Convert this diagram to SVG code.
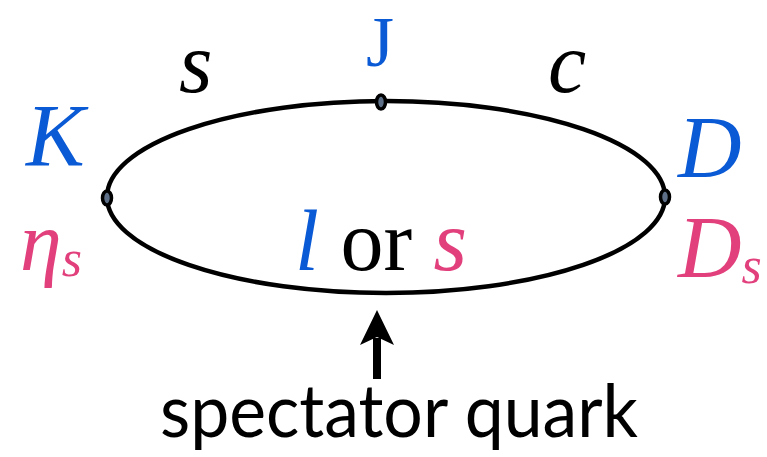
<svg xmlns="http://www.w3.org/2000/svg" width="767" height="457" viewBox="0 0 767 457">
<style>
.serif{font-family:'Liberation Serif','Times New Roman',serif}
.sans{font-family:Lato,'Open Sans',sans-serif}
.it{font-style:italic}
.blue{fill:#0a5ad6}
.pink{fill:#e2407c}
.blk{fill:#000}
.node{fill:#5d6f86;stroke:#000;stroke-width:3.5}
</style>
<g id="connectors">
<ellipse cx="386" cy="197" rx="279" ry="96" fill="none" stroke="#000" stroke-width="4.5"/>
<line x1="377" y1="379" x2="377" y2="338" stroke="#000" stroke-width="8"/>
<path d="M377,310 L394,345 L377,337 L360,345 Z" fill="#000"/>
</g>
<g id="node-left">
<ellipse class="node" cx="107" cy="198" rx="4.5" ry="7"/>
<text class="serif it blue" x="26" y="165" font-size="88">K</text>
<text class="serif it pink" x="20" y="270" font-size="84">η<tspan font-size="52" dy="6">s</tspan></text>
</g>
<g id="node-right">
<ellipse class="node" cx="665" cy="197" rx="4.5" ry="7"/>
<text class="serif it blue" x="678" y="177" font-size="88">D</text>
<text class="serif it pink" x="678" y="277" font-size="88">D<tspan font-size="52" dy="6">s</tspan></text>
</g>
<g id="node-top">
<ellipse class="node" cx="381" cy="102" rx="4.5" ry="7"/>
<text class="serif blue" x="380" y="66" font-size="72" text-anchor="middle">J</text>
</g>
<g id="labels">
<text class="serif it blk" x="179" y="92" font-size="86">s</text>
<text class="serif it blk" x="548" y="92" font-size="86">c</text>
<text class="serif" x="295" y="270" font-size="86"><tspan class="it blue">l</tspan><tspan class="blk"> or </tspan><tspan class="it pink">s</tspan></text>
<text class="sans blk" x="160" y="437" font-size="74" textLength="478" lengthAdjust="spacingAndGlyphs">spectator quark</text>
</g>
</svg>
